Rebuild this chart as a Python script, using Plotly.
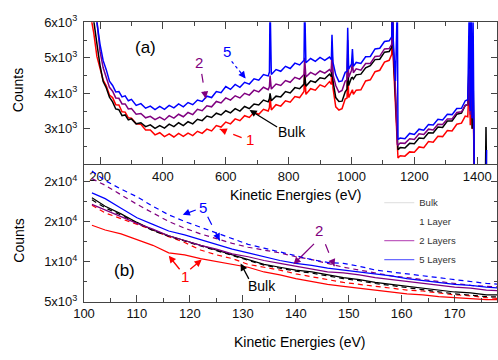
import plotly.graph_objects as go

# ---------------- data: panel (a) survey spectra ----------------
E_top = [160, 170, 180, 190, 200, 210, 220, 230, 240, 250,
         260, 270, 280, 290, 300, 315, 330, 345, 360, 375,
         390, 405, 420, 435, 450, 465, 480, 495, 510, 525,
         540, 555, 570, 585, 600, 615, 630, 645, 660, 675,
         690, 705, 720, 735, 739, 741, 745, 760, 775, 790,
         805, 820, 835, 849, 851, 855, 870, 885, 900, 915,
         930, 936, 938, 941, 950, 960, 970, 980, 986, 988,
         991, 1000, 1003, 1006, 1015, 1030, 1045, 1060, 1075, 1090,
         1105, 1120, 1128, 1130, 1133, 1140, 1146, 1148, 1155, 1170,
         1185, 1200, 1215, 1230, 1245, 1260, 1275, 1290, 1305, 1320,
         1335, 1350, 1362, 1370, 1375, 1378, 1381, 1384, 1387, 1391,
         1400, 1426, 1428, 1430]

top_5layers = [7600, 7100, 6600, 6000, 5380, 4920, 4660, 4340, 4220, 4040,
               4050, 3900, 3930, 3790, 3830, 3660, 3710, 3580, 3640, 3540,
               3630, 3550, 3660, 3590, 3700, 3620, 3740, 3680, 3810, 3770,
               3920, 3880, 4050, 4020, 4190, 4110, 4250, 4170, 4310, 4260,
               4410, 4370, 4530, 4490, 4600, 6600, 4530, 4670, 4620, 4760,
               4700, 4850, 4800, 4930, 6600, 4860, 4980, 4900, 5010, 4930,
               5020, 4950, 5650, 4880, 4520, 4330, 4350, 4590, 4620, 5850,
               4680, 4820, 5250, 4760, 4870, 4840, 5030, 5040, 5250, 5270,
               5460, 5480, 5590, 6600, 5480, 4350, 6600, 2700, 2740, 2720,
               2870, 2840, 2990, 2960, 3120, 3110, 3270, 3250, 3410, 3400,
               3570, 3580, 3790, 3820, 6600, 3500, 6600, 3300, 6000, 1500,
               1500, 1500, 1500, 2400]

top_2layers = [7400, 6900, 6400, 6050, 5180, 4720, 4450, 4170, 4060, 3870,
               3860, 3700, 3700, 3560, 3570, 3410, 3430, 3310, 3350, 3260,
               3330, 3250, 3370, 3300, 3410, 3340, 3460, 3400, 3550, 3510,
               3650, 3620, 3770, 3730, 3870, 3810, 3930, 3870, 4000, 3950,
               4090, 4040, 4170, 4100, 4190, 4500, 4120, 4260, 4220, 4360,
               4310, 4450, 4400, 4530, 5000, 4460, 4590, 4520, 4630, 4570,
               4670, 4600, 5250, 4530, 4220, 4030, 4080, 4340, 4380, 5500,
               4450, 4640, 4900, 4580, 4690, 4650, 4840, 4840, 5040, 5050,
               5250, 5260, 5380, 6600, 5280, 4100, 2560, 2540, 2600, 2590,
               2720, 2700, 2860, 2840, 2990, 2970, 3130, 3120, 3280, 3280,
               3460, 3480, 3660, 3680, 4700, 3400, 5100, 3300, 4200, 1500,
               1500, 1500, 1500, 1500]

top_bulk = [7000, 6500, 6050, 5400, 4790, 4330, 4150, 3890, 3760, 3560,
            3540, 3370, 3390, 3250, 3280, 3140, 3170, 3060, 3110, 3010,
            3090, 3020, 3130, 3060, 3170, 3090, 3200, 3140, 3270, 3230,
            3360, 3320, 3440, 3390, 3510, 3450, 3570, 3500, 3630, 3570,
            3700, 3670, 3810, 3760, 3850, 4000, 3790, 3920, 3900, 4050,
            4010, 4160, 4130, 4260, 4550, 4200, 4350, 4310, 4440, 4410,
            4540, 4470, 5000, 4360, 3880, 3770, 3780, 4040, 4120, 5000,
            4220, 4440, 4450, 4400, 4520, 4540, 4720, 4780, 4950, 4960,
            5160, 5180, 5300, 6600, 5180, 3900, 2430, 2410, 2470, 2460,
            2590, 2580, 2740, 2730, 2890, 2880, 3050, 3040, 3220, 3220,
            3410, 3440, 3660, 3680, 5100, 3600, 5400, 3000, 4500, 1500,
            1500, 1500, 3050, 1500]

top_1layer = [6700, 6200, 5700, 5040, 4730, 4370, 4210, 3950, 3880, 3680,
              3670, 3480, 3470, 3310, 3300, 3140, 3130, 2970, 2970, 2830,
              2890, 2780, 2860, 2770, 2870, 2790, 2880, 2810, 2930, 2870,
              2990, 2940, 3090, 3050, 3190, 3140, 3280, 3230, 3370, 3320,
              3460, 3410, 3550, 3500, 3600, 3900, 3530, 3680, 3640, 3790,
              3750, 3910, 3880, 4050, 4700, 3970, 4130, 4090, 4240, 4180,
              4330, 4250, 5450, 4160, 3620, 3530, 3570, 3840, 3870, 5100,
              3880, 4030, 4100, 3970, 4090, 4100, 4350, 4380, 4610, 4650,
              4880, 4930, 5100, 6600, 4960, 3650, 2200, 2180, 2240, 2230,
              2350, 2340, 2490, 2470, 2640, 2620, 2790, 2780, 2950, 2940,
              3130, 3160, 3360, 3340, 4400, 3100, 4700, 3000, 3800, 1500,
              1500, 1500, 1500, 1500]

# ---------------- data: panel (b) low-energy region ----------------
E_low = [101.5, 104, 107, 110, 113, 116, 119, 122, 125, 128,
         131, 134, 137, 140, 143, 146, 149, 152, 155, 158,
         161, 164, 167, 170, 173, 176, 179]

low_1layer_solid = [14520, 13930, 13450, 12740, 12020, 11070, 10830, 10360, 10000, 9640,
                    9280, 8690, 8330, 7860, 7500, 7140, 6900, 6670, 6430, 6190,
                    5950, 5830, 5600, 5480, 5360, 5240, 5240]
low_1layer_dash = [17020, 16070, 15350, 14640, 13930, 13090, 12380, 11430, 10830, 10360,
                   9640, 9280, 8930, 8450, 8090, 7740, 7380, 7140, 6900, 6670,
                   6430, 6310, 6070, 5830, 5710, 5480, 5360]
low_bulk_solid = [17970, 16900, 15950, 14880, 13930, 13210, 12620, 12020, 11430, 10830,
                  10240, 9640, 9280, 8930, 8690, 8330, 7980, 7740, 7380, 7140,
                  6900, 6670, 6430, 6190, 6070, 5830, 5830]
low_bulk_dash = [17700, 16700, 15800, 14800, 13850, 13150, 12550, 11950, 11350, 10750,
                 10150, 9550, 9150, 8800, 8550, 8200, 7850, 7600, 7250, 7000,
                 6750, 6500, 6250, 5950, 5800, 5600, 5550]
low_2layers_solid = [17140, 16420, 15590, 14760, 14040, 13210, 12620, 12020, 11550, 10950,
                     10590, 10120, 9760, 9400, 9050, 8690, 8570, 8330, 7980, 7740,
                     7500, 7260, 7020, 6790, 6670, 6430, 6310]
low_2layers_dash = [20350, 19520, 18330, 17140, 16070, 15000, 14160, 13450, 12850, 12260,
                    11780, 11430, 11070, 10590, 10240, 9760, 9280, 8930, 8570, 8210,
                    7980, 7740, 7500, 7260, 7020, 6900, 6790]
low_5layers_solid = [18570, 17850, 16660, 15470, 14640, 13810, 13330, 12740, 12140, 11550,
                     11070, 10590, 10120, 9760, 9520, 9170, 8930, 8690, 8450, 8210,
                     7860, 7620, 7380, 7140, 7020, 6790, 6670]
low_5layers_dash = [21300, 20110, 19040, 18090, 16900, 15830, 15000, 14280, 13570, 12850,
                    12140, 11670, 11190, 10710, 10240, 9880, 9760, 9400, 8930, 8690,
                    8450, 8210, 7980, 7740, 7500, 7260, 7140]

top_yticks = [3000, 4000, 5000, 6000]
top_yticktext = ["3x10<sup>3</sup>", "4x10<sup>3</sup>", "5x10<sup>3</sup>", "6x10<sup>3</sup>"]
low_yticks = [5000, 10000, 15000, 20000]
low_yticktext = ["5x10<sup>3</sup>", "1x10<sup>4</sup>", "2x10<sup>4</sup>", "2x10<sup>4</sup>"]
legend_names = ["Bulk", "1 Layer", "2 Layers", "5 Layers"]
legend_colors = ["#e4e4e4", "rgba(255,255,255,0)", "#c060c0", "#6a6aff"]

RED, BLK, PUR, BLU = "#ff0000", "#000000", "#800080", "#0000ff"
FONT = "Liberation Sans, Arial, sans-serif"

W, H = 498, 360
ML = 84
PW = W - ML


def P(x, y):
    return (x - ML) / PW, 1 - y / H


fig = go.Figure()

for ys, col in [(top_1layer, RED), (top_bulk, BLK), (top_2layers, PUR), (top_5layers, BLU)]:
    fig.add_trace(go.Scatter(x=E_top, y=ys, mode="lines", xaxis="x", yaxis="y",
                             line=dict(color=col, width=1.5), showlegend=False,
                             hoverinfo="skip"))

low_series = [
    (low_1layer_solid, RED, "solid"), (low_1layer_dash, RED, "5px,4px"),
    (low_bulk_dash, BLK, "5px,4px"), (low_bulk_solid, BLK, "solid"),
    (low_2layers_solid, PUR, "solid"), (low_2layers_dash, PUR, "5px,4px"),
    (low_5layers_solid, BLU, "solid"), (low_5layers_dash, BLU, "5px,4px"),
]
for ys, col, dash in low_series:
    fig.add_trace(go.Scatter(x=E_low, y=ys, mode="lines", xaxis="x2", yaxis="y2",
                             line=dict(color=col, width=1.2, dash=dash), showlegend=False,
                             hoverinfo="skip"))

for i, (nm, col) in enumerate(zip(legend_names, legend_colors)):
    fig.add_trace(go.Scatter(x=[None], y=[None], mode="lines", xaxis="x2", yaxis="y2",
                             name=nm, legendgroup=nm, line=dict(color=col, width=1.2)))

ax_common = dict(showline=True, linecolor="#444", linewidth=1, showgrid=False,
                 zeroline=False, ticks="inside", tickcolor="#444",
                 tickfont=dict(family=FONT, size=13, color="#111"))

fig.update_layout(
    width=W, height=H,
    margin=dict(l=ML, r=0, t=0, b=0),
    paper_bgcolor="white", plot_bgcolor="white",
    font=dict(family=FONT, color="#111"),
    xaxis=dict(domain=[0, 1], range=[149, 1463], anchor="y", mirror="ticks",
               tickmode="linear", tick0=200, dtick=200, ticklen=7,
               minor=dict(dtick=100, ticks="inside", ticklen=4, tickcolor="#444"),
               ticklabelstandoff=0, **ax_common),
    yaxis=dict(domain=[1 - 163 / H, 1 - 14 / H], range=[2000, 6000], anchor="x",
               mirror="ticks", tickmode="array", tickvals=top_yticks,
               ticktext=top_yticktext, ticklen=6,
               minor=dict(tickvals=[2500, 3500, 4500, 5500], ticks="inside",
                          ticklen=3, tickcolor="#444"),
               ticklabelstandoff=3, **ax_common),
    xaxis2=dict(domain=[0, 1], range=[100, 178], anchor="y2", mirror=False,
                tickmode="linear", tick0=100, dtick=10, ticklen=7,
                minor=dict(dtick=5, ticks="inside", ticklen=4, tickcolor="#444"),
                **ax_common),
    yaxis2=dict(domain=[1 - 307 / H, 1 - 163 / H], range=[5000, 22140], anchor="x2",
                mirror="ticks", tickmode="array", tickvals=low_yticks,
                ticktext=low_yticktext, ticklen=6,
                minor=dict(tickvals=[7500, 12500, 17500], ticks="inside",
                           ticklen=3, tickcolor="#444"),
                ticklabelstandoff=3, **ax_common),
    legend=dict(x=(380 - ML) / PW, y=1 - 188 / H, xanchor="left", yanchor="top",
                bgcolor="rgba(0,0,0,0)", font=dict(family=FONT, size=9.5, color="#333"),
                tracegroupgap=0, itemwidth=30),
)

ann = []
shapes = []


def text(x, y, s, size=14, color="#000", angle=0):
    xp, yp = P(x, y)
    ann.append(dict(x=xp, y=yp, xref="paper", yref="paper", text=s, showarrow=False,
                    font=dict(family=FONT, size=size, color=color), textangle=angle,
                    xanchor="center", yanchor="middle"))


def arrow(tail, head, color, dash=None):
    hx, hy = P(*head)
    if dash:
        tx, ty = P(*tail)
        shapes.append(dict(type="line", xref="paper", yref="paper", x0=tx, y0=ty,
                           x1=hx, y1=hy, line=dict(color=color, width=1.2, dash=dash)))
        dx, dy = tail[0] - head[0], tail[1] - head[1]
        L = (dx * dx + dy * dy) ** 0.5
        ax, ay = dx / L * 7, dy / L * 7
    else:
        ax, ay = tail[0] - head[0], tail[1] - head[1]
    ann.append(dict(x=hx, y=hy, xref="paper", yref="paper", ax=ax, ay=ay, text="",
                    showarrow=True, arrowhead=2, arrowsize=1.1, arrowwidth=1.3,
                    arrowcolor=color, standoff=0))


# titles
text(297, 195, "Kinetic Energies (eV)", 14)
text(301, 350, "Kinetic Energies (eV)", 14)
text(18, 85, "Counts", 14, angle=-90)
text(18, 243, "Counts", 14, angle=-90)
text(146, 40, "(a)", 17)
text(125, 274, "(b)", 17)

# panel (a) labels
text(227, 45, "5", 15, BLU)
arrow((232, 55), (246, 73), BLU, "dot")
text(199, 56, "2", 15, PUR)
arrow((202, 68), (206, 94), PUR, "dash")
text(250, 137, "1", 15, RED)
arrow((242, 135), (220, 126), RED, "dash")
text(293, 129, "Bulk", 14, "#000")
arrow((279, 124), (250, 106), BLK)

# panel (b) labels
text(203, 208, "5", 15, BLU)
arrow((196, 211), (183, 216), BLU, "dash")
arrow((208, 218), (220, 243), BLU, "dash")
text(320, 232, "2", 15, PUR)
arrow((316, 246), (294, 268), PUR)
arrow((326, 247), (335, 270), PUR, "dash")
text(185, 281, "1", 15, RED)
arrow((181, 274), (169, 259), RED)
arrow((189, 274), (202, 263), RED)
text(262, 291, "Bulk", 14, "#000")
arrow((250, 284), (241, 267), BLK)

fig.update_layout(annotations=ann, shapes=shapes)
fig.write_html("out.html")
